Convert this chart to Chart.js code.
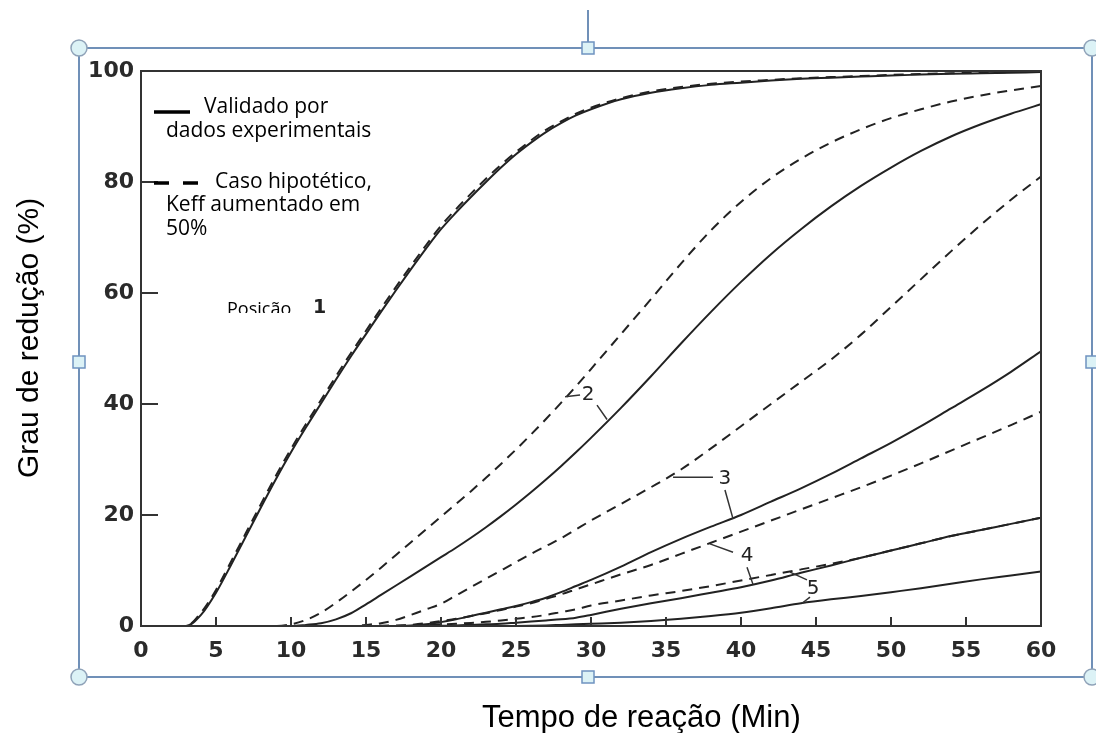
<!DOCTYPE html>
<html>
<head>
<meta charset="utf-8">
<script src="https://cdn.jsdelivr.net/npm/chart.js@4.4.1/dist/chart.umd.min.js"></script>
<style>
  html, body { margin: 0; padding: 0; background: #fff; }
  canvas { display: block; }
</style>
</head>
<body>
<canvas id="chart" width="1096" height="733"></canvas>
<script>
// Tempo de reação (min) - shared x grid
const tempo = [0, 3, 4, 5, 6, 7, 8, 9, 10, 11, 12, 13, 14, 15, 16, 17, 18, 19, 20, 21, 22, 23, 24, 25, 26, 27, 28, 29, 30,
  32, 34, 36, 38, 40, 42, 44, 46, 48, 50, 52, 54, 56, 58, 60];

// Grau de redução (%) per position, solid = validado, dashed = Keff +50%
const pos1Solid = [0, 0, 2, 6, 11, 16.2, 21.4, 26.5, 31.3, 35.8, 40.1, 44.4, 48.6, 52.6, 56.6, 60.5, 64.3, 68, 71.5, 74.5, 77.3, 80, 82.6, 85, 87.1, 89, 90.6, 92, 93.1,
  94.9, 96.1, 96.9, 97.5, 97.9, 98.3, 98.6, 98.8, 99, 99.2, 99.35, 99.5, 99.6, 99.7, 99.8];
const pos1Dashed = [0, 0, 2.4, 6.5, 11.6, 16.8, 22, 27.1, 31.9, 36.4, 40.7, 45, 49.2, 53.2, 57.2, 61.1, 64.9, 68.6, 72.1, 75.1, 77.9, 80.6, 83.1, 85.4, 87.5, 89.4, 90.9, 92.3, 93.4,
  95.1, 96.3, 97.1, 97.7, 98.1, 98.4, 98.7, 98.9, 99.1, 99.3, 99.45, 99.6, 99.7, 99.8, 99.85];
const pos2Solid = [0, 0, 0, 0, 0, 0, 0, 0, 0, 0.2, 0.5, 1.2, 2.3, 3.9, 5.6, 7.3, 9, 10.7, 12.4, 14.1, 15.9, 17.8, 19.8, 21.9, 24.1, 26.4, 28.8, 31.3, 33.9,
  39.3, 45, 50.9, 56.6, 62, 67, 71.5, 75.6, 79.3, 82.6, 85.6, 88.2, 90.4, 92.3, 94];
const pos2Dashed = [0, 0, 0, 0, 0, 0, 0, 0, 0.3, 1.1, 2.4, 4.2, 6.2, 8.3, 10.5, 12.8, 15.1, 17.4, 19.7, 22, 24.3, 26.7, 29.2, 31.8, 34.5, 37.3, 40.2, 43.2, 46.3,
  52.6, 58.9, 65.3, 71.3, 76.4, 80.7, 84.2, 87.1, 89.5, 91.5, 93.1, 94.5, 95.6, 96.5, 97.3];
const pos3Solid = [0, 0, 0, 0, 0, 0, 0, 0, 0, 0, 0, 0, 0, 0, 0, 0, 0.1, 0.3, 0.7, 1.2, 1.8, 2.4, 3, 3.6, 4.3, 5.1, 6.1, 7.2, 8.3,
  10.7, 13.3, 15.7, 17.9, 20, 22.4, 24.8, 27.4, 30.2, 33, 36, 39.2, 42.4, 45.8, 49.5];
const pos3Dashed = [0, 0, 0, 0, 0, 0, 0, 0, 0, 0, 0, 0, 0, 0.2, 0.5, 1.1, 2, 3, 4, 5.5, 7, 8.5, 10, 11.5, 13, 14.4, 15.8, 17.4, 19,
  22, 25, 28.2, 32, 36, 40, 44, 48, 52.5, 57.5, 62.5, 67.5, 72.3, 76.8, 81];
const pos4Solid = [0, 0, 0, 0, 0, 0, 0, 0, 0, 0, 0, 0, 0, 0, 0, 0, 0, 0, 0.05, 0.1, 0.2, 0.3, 0.4, 0.6, 0.8, 1, 1.2, 1.5, 2,
  3.1, 4.1, 5, 6, 7, 8.2, 9.6, 10.9, 12.3, 13.6, 14.9, 16.2, 17.3, 18.4, 19.5];
const pos4Dashed = [0, 0, 0, 0, 0, 0, 0, 0, 0, 0, 0, 0, 0, 0, 0, 0, 0.2, 0.5, 0.9, 1.3, 1.8, 2.3, 2.9, 3.5, 4.1, 4.9, 5.7, 6.6, 7.5,
  9.3, 11, 13, 15, 17, 19, 21, 23, 25, 27.1, 29.3, 31.6, 33.9, 36.2, 38.6];
const pos5Solid = [0, 0, 0, 0, 0, 0, 0, 0, 0, 0, 0, 0, 0, 0, 0, 0, 0, 0, 0, 0, 0, 0, 0, 0.02, 0.05, 0.1, 0.2, 0.3, 0.4,
  0.6, 0.9, 1.3, 1.8, 2.4, 3.2, 4.1, 4.8, 5.4, 6.1, 6.8, 7.6, 8.4, 9.1, 9.8];
const pos5Dashed = [0, 0, 0, 0, 0, 0, 0, 0, 0, 0, 0, 0, 0, 0, 0.05, 0.1, 0.15, 0.2, 0.3, 0.4, 0.55, 0.75, 1, 1.3, 1.6, 2, 2.5, 3, 3.7,
  4.6, 5.5, 6.3, 7.2, 8.2, 9.2, 10.2, 11.2, 12.3, 13.6, 14.9, 16.2, 17.3, 18.4, 19.5];

// Axis ticks
const xTicks = [0, 5, 10, 15, 20, 25, 30, 35, 40, 45, 50, 55, 60];
const yTicks = [0, 20, 40, 60, 80, 100];

// Curve labels with leader lines, in data units [x, y]
const curveLabels = [
  { text: "2", at: [29.8, 41.6], leaders: [[[29.27, 41.6], [28.27, 41.3]], [[30.4, 39.8], [31.07, 37.2]]] },
  { text: "3", at: [38.93, 26.5], leaders: [[[38.13, 26.8], [35.47, 26.8]], [[38.93, 24.5], [39.47, 19.3]]] },
  { text: "4", at: [40.4, 12.6], leaders: [[[39.47, 13.3], [37.93, 14.8]], [[40.4, 10.6], [40.8, 7.5]]] },
  { text: "5", at: [44.8, 6.7], leaders: [[[44.4, 8.3], [43.27, 9.7]], [[44.6, 5.2], [44.07, 4.1]]] }
];

const ink = "#222";
const toPoints = (vals) => tempo.map((t, i) => ({ x: t, y: vals[i] }));

function line(vals, dashed) {
  return {
    data: toPoints(vals),
    borderColor: ink,
    borderWidth: 2,
    borderDash: dashed ? [10, 7] : [],
    pointRadius: 0,
    fill: false,
    cubicInterpolationMode: "monotone"
  };
}

// Frame, inward ticks, curve labels, legend, axis titles, selection box
const decor = {
  id: "decor",
  beforeDraw(chart) {
    const c = chart.ctx;
    c.save();
    c.fillStyle = "#fff";
    c.fillRect(0, 0, chart.width, chart.height);
    c.restore();
  },
  afterDatasetsDraw(chart) {
    const c = chart.ctx;
    const a = chart.chartArea;
    const x = chart.scales.x, y = chart.scales.y;
    const px = (v) => x.getPixelForValue(v), py = (v) => y.getPixelForValue(v);
    c.save();
    c.strokeStyle = "#333";
    c.lineWidth = 2;
    c.strokeRect(a.left, a.top, a.right - a.left, a.bottom - a.top);
    c.beginPath();
    xTicks.slice(1, -1).forEach(v => { c.moveTo(px(v), a.bottom); c.lineTo(px(v), a.bottom - 9); });
    yTicks.slice(1, -1).forEach(v => { c.moveTo(a.left, py(v)); c.lineTo(a.left + 17, py(v)); });
    c.stroke();

    // curve labels
    c.fillStyle = ink;
    c.lineWidth = 1.5;
    c.font = "20px 'DejaVu Sans'";
    c.textAlign = "center";
    c.textBaseline = "middle";
    curveLabels.forEach(l => {
      c.fillText(l.text, px(l.at[0]), py(l.at[1]));
      c.beginPath();
      l.leaders.forEach(([p, q]) => { c.moveTo(px(p[0]), py(p[1])); c.lineTo(px(q[0]), py(q[1])); });
      c.stroke();
    });

    // "Posição 1" (bottom of the word is cut in the original)
    c.save();
    c.beginPath();
    c.rect(a.left + 10, a.top, 200, 242);
    c.clip();
    c.textAlign = "left";
    c.textBaseline = "alphabetic";
    c.font = "18px 'Open Sans'";
    c.fillStyle = "#000";
    c.fillText("Posição", 227, 315);
    c.restore();
    c.font = "bold 19px 'DejaVu Sans'";
    c.textAlign = "left";
    c.textBaseline = "alphabetic";
    c.fillText("1", 313, 313);

    // legend
    c.fillStyle = "#000";
    c.strokeStyle = "#000";
    c.lineWidth = 3.5;
    c.beginPath();
    c.moveTo(154, 112); c.lineTo(190, 112);
    c.moveTo(154, 183); c.lineTo(169, 183);
    c.moveTo(183, 183); c.lineTo(198, 183);
    c.stroke();
    c.font = "21px 'Open Sans'";
    c.fillText("Validado por", 204, 113);
    c.fillText("dados experimentais", 166, 137);
    c.fillText("Caso hipotético,", 215, 188);
    c.fillText("Keff aumentado em", 166, 211);
    c.fillText("50%", 166, 235);
    c.restore();
  },
  afterDraw(chart) {
    const c = chart.ctx;
    c.save();
    // axis titles
    c.fillStyle = "#000";
    c.textAlign = "left";
    c.textBaseline = "alphabetic";
    c.font = "31px 'Liberation Sans'";
    c.fillText("Tempo de reação (Min)", 482, 727);
    c.font = "30px 'Liberation Sans'";
    c.translate(38, 478);
    c.rotate(-Math.PI / 2);
    c.fillText("Grau de redução (%)", 0, 0);
    c.restore();

    // selection box
    const L = 79, T = 48, R = 1092, B = 677, mx = 588, my = 362;
    c.save();
    c.strokeStyle = "#7090b8";
    c.lineWidth = 2;
    c.strokeRect(L, T, R - L, B - T);
    c.beginPath();
    c.moveTo(mx, 10); c.lineTo(mx, T);
    c.stroke();
    c.lineWidth = 1.5;
    [[L, T], [R, T], [L, B], [R, B]].forEach(([hx, hy]) => {
      c.beginPath();
      c.arc(hx, hy, 8, 0, Math.PI * 2);
      c.fillStyle = "#dcf2f6";
      c.fill();
      c.strokeStyle = "#8fa2b8";
      c.stroke();
    });
    [[mx, T], [mx, B], [L, my], [R, my]].forEach(([hx, hy]) => {
      c.fillStyle = "#dcf2f6";
      c.fillRect(hx - 6, hy - 6, 12, 12);
      c.strokeStyle = "#6f93c0";
      c.strokeRect(hx - 6, hy - 6, 12, 12);
    });
    c.restore();
  }
};

const tickFont = { family: "'DejaVu Sans'", weight: "bold", size: 22 };

new Chart(document.getElementById("chart"), {
  type: "line",
  data: {
    datasets: [
      line(pos1Solid, false), line(pos1Dashed, true),
      line(pos2Solid, false), line(pos2Dashed, true),
      line(pos3Solid, false), line(pos3Dashed, true),
      line(pos4Solid, false), line(pos4Dashed, true),
      line(pos5Solid, false), line(pos5Dashed, true)
    ]
  },
  options: {
    responsive: false,
    animation: false,
    layout: { padding: { top: 71, right: 55, left: 0, bottom: 0 } },
    plugins: { legend: { display: false }, tooltip: { enabled: false } },
    scales: {
      x: {
        type: "linear", min: 0, max: 60,
        grid: { display: false, drawTicks: false },
        border: { display: false },
        afterBuildTicks: (s) => { s.ticks = xTicks.map(v => ({ value: v })); },
        ticks: { color: "#2a2a2a", font: tickFont, padding: 12 },
        afterFit: (s) => { s.height = 107; }
      },
      y: {
        min: 0, max: 100,
        grid: { display: false, drawTicks: false },
        border: { display: false },
        afterBuildTicks: (s) => { s.ticks = yTicks.map(v => ({ value: v })); },
        ticks: { color: "#2a2a2a", font: tickFont, padding: 7 },
        afterFit: (s) => { s.width = 141; }
      }
    }
  },
  plugins: [decor]
});
</script>
</body>
</html>
